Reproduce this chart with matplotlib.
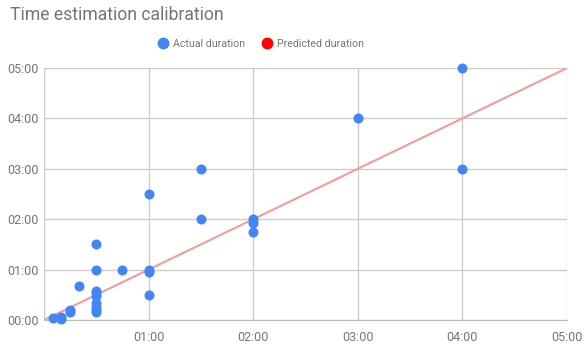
import matplotlib
matplotlib.use("Agg")
import matplotlib.pyplot as plt
from matplotlib.ticker import FuncFormatter, MultipleLocator
from matplotlib.lines import Line2D

# Data in minutes: predicted (x) vs actual (y)
predicted = [240, 240, 180, 90, 90, 60, 120, 120, 120,
             30, 30, 45, 60, 60, 60, 20,
             30, 30, 30, 30, 30, 30, 30,
             15, 15, 10, 10, 5]
actual = [300, 180, 240, 180, 120, 150, 120, 115, 105,
          90, 60, 60, 60, 57, 30, 40,
          35, 32, 28, 20, 16, 12, 9,
          12, 9, 4, 1, 2]
line_range = [0, 300]

title = "Time estimation calibration"
series_names = ["Actual duration", "Predicted duration"]
blue = "#4285f4"
red = "#ff0000"
gray = "#757575"

plt.rcParams['font.family'] = ['Roboto', 'DejaVu Sans']

fig = plt.figure(figsize=(5.87, 3.52), dpi=100)
ax = fig.add_axes([44/587, 1-320/352, (567-44)/587, (320-68)/352])

ax.plot(line_range, line_range, color="#f79a9a", lw=1.5, zorder=2)
ax.scatter(predicted, actual, s=52, color=blue, zorder=3, linewidths=0, clip_on=False)

ax.set_xlim(0, 300)
ax.set_ylim(0, 300)
ax.xaxis.set_major_locator(MultipleLocator(60))
ax.yaxis.set_major_locator(MultipleLocator(60))
fmt = FuncFormatter(lambda v, p: "%02d:%02d" % (int(v // 60), int(v % 60)))
fmt_x = FuncFormatter(lambda v, p: "" if v == 0 else "%02d:%02d" % (int(v // 60), int(v % 60)))
ax.xaxis.set_major_formatter(fmt_x)
ax.yaxis.set_major_formatter(fmt)
ax.grid(True, color="#cccccc", lw=1)
ax.set_axisbelow(True)
for s in ["left", "right", "top"]:
    ax.spines[s].set_visible(False)
ax.spines["bottom"].set_color("#bbbbbb")
ax.tick_params(length=0, labelsize=9, labelcolor=gray, pad=4)
ax.tick_params(axis='x', pad=8)

fig.text(10/587, 1-15/352, title, fontsize=12.7, color=gray, va="center", ha="left")

handles = [Line2D([], [], marker="o", ls="", color=blue, markersize=7.5),
           Line2D([], [], marker="o", ls="", color=red, markersize=7.5)]
fig.legend(handles, series_names, loc="center", bbox_to_anchor=(261/587, 1-44/352),
           ncol=2, frameon=False, fontsize=7.7, labelcolor=gray,
           handletextpad=0.4, columnspacing=1.6, handlelength=1.0)

fig.savefig("out.png", dpi=100)
